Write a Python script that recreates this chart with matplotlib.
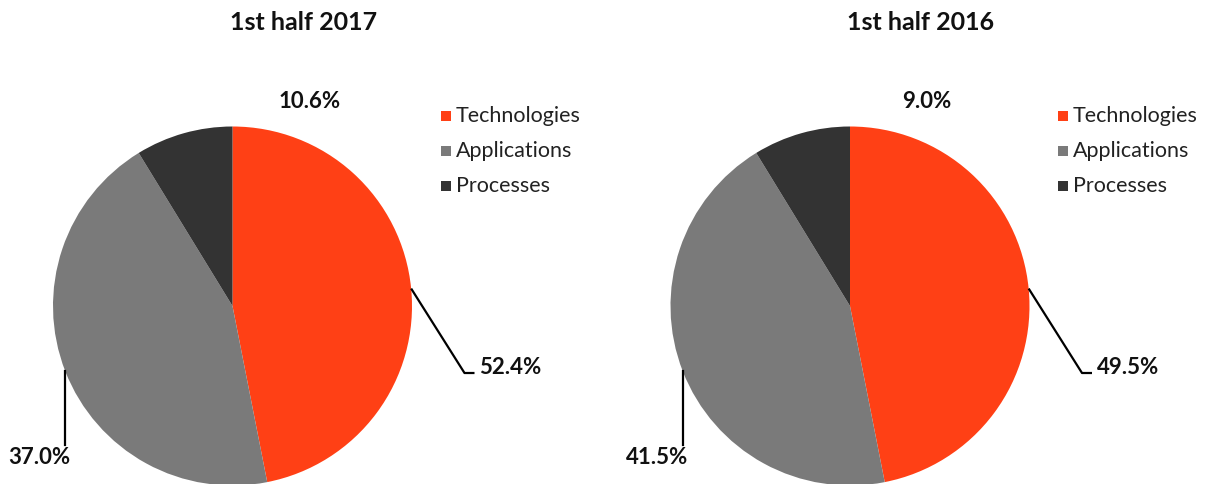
import numpy as np
import matplotlib
matplotlib.use('Agg')
import matplotlib.pyplot as plt
from matplotlib.patches import Rectangle

plt.rcParams['font.family'] = ['Lato', 'DejaVu Sans']

CATEGORIES = ['Technologies', 'Applications', 'Processes']
COLORS = ['#FF4015', '#7A7A7A', '#333333']

# slice shares as drawn in the picture (both pies are drawn the same)
slices_2017 = [46.9, 44.35, 8.75]
slices_2016 = [46.9, 44.35, 8.75]
# percentage labels as printed
labels_2017 = ['52.4%', '37.0%', '10.6%']
labels_2016 = ['49.5%', '41.5%', '9.0%']
titles = ['1st half 2017', '1st half 2016']

W, H = 1211, 484
R = 179.5


def save_fig(fig, path):
    fig.savefig(path, dpi=100, facecolor='white')
    plt.close(fig)


def draw_pie(ax, cx, cy, values, labels, title):
    wedges, _ = ax.pie(values, colors=COLORS, startangle=90, counterclock=False,
                       radius=R, center=(cx, cy), frame=True,
                       wedgeprops=dict(linewidth=0))
    ax.text(cx + 71, H - 22, title, ha='center', va='center',
            fontsize=18, fontweight='bold', color='#111111')

    # Technologies: leader with elbow to the right
    w = wedges[0]
    a = np.deg2rad((w.theta1 + w.theta2) / 2)
    x0, y0 = cx + R * np.cos(a), cy + R * np.sin(a)
    ye = cy - 67
    ax.plot([x0, cx + 232, cx + 242], [y0, ye, ye], color='black', lw=1.6,
            solid_capstyle='butt')
    ax.text(cx + 247, cy - 61, labels[0], ha='left', va='center',
            fontsize=16, fontweight='bold', color='#111111')

    # Applications: vertical leader going down
    w = wedges[1]
    a = np.deg2rad((w.theta1 + w.theta2) / 2)
    x0, y0 = cx + R * np.cos(a), cy + R * np.sin(a)
    ax.plot([x0, x0], [y0, cy - 139], color='black', lw=1.6)
    ax.text(cx - 193, cy - 152, labels[1], ha='center', va='center',
            fontsize=16, fontweight='bold', color='#111111')

    # Processes: label above
    ax.text(cx + 77, cy + 205, labels[2], ha='center', va='center',
            fontsize=16, fontweight='bold', color='#111111')

    # legend
    for i, (name, col) in enumerate(zip(CATEGORIES, COLORS)):
        yy = H - (116 + 35 * i)
        ax.add_patch(Rectangle((cx + 208, yy - 5), 10, 10, color=col, lw=0))
        ax.text(cx + 223, yy, name, ha='left', va='center',
                fontsize=15.5, color='#222222')


fig = plt.figure(figsize=(W / 100, H / 100), dpi=100)
ax = fig.add_axes([0, 0, 1, 1])

draw_pie(ax, 232.5, H - 306, slices_2017, labels_2017, titles[0])
draw_pie(ax, 850, H - 306, slices_2016, labels_2016, titles[1])
ax.set_xlim(0, W)
ax.set_ylim(0, H)
ax.set_aspect('auto')
ax.axis('off')

save_fig(fig, 'out.png')
